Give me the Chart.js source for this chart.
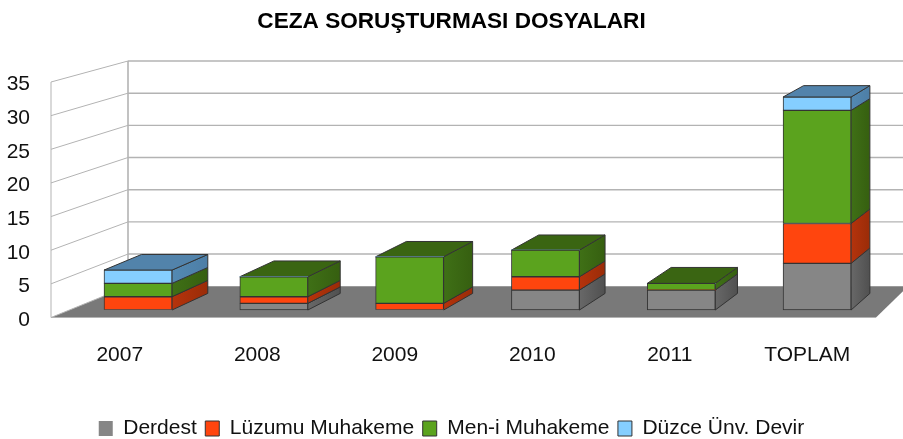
<!DOCTYPE html>
<html>
<head>
<meta charset="utf-8">
<title>Ceza Soruşturması Dosyaları</title>
<script src="https://cdn.jsdelivr.net/npm/chart.js@4/dist/chart.umd.js"></script>
<style>
  html, body { margin: 0; padding: 0; background: #fff; }
  #wrap { width: 903px; height: 439px; }
</style>
</head>
<body>
<div id="wrap"><canvas id="chart" width="903" height="439"></canvas></div>
<script>
const categories = ['2007', '2008', '2009', '2010', '2011', 'TOPLAM'];
const yTicks = [0, 5, 10, 15, 20, 25, 30, 35];
const derdest = [0, 1, 0, 3, 3, 7];
const luzumu = [2, 1, 1, 2, 0, 6];
const meni = [2, 3, 7, 4, 1, 17];
const duzce = [2, 0, 0, 0, 0, 2];

const FONT = '"Liberation Sans", Arial, sans-serif';

// front colour, side gradient (left, right), top colour
const looks = [
    { front: '#868686', side: ['#686868', '#505050'], top: '#5a5a5a' },
    { front: '#ff450e', side: ['#b5330c', '#9a2c08'], top: '#a02e0a' },
    { front: '#5ba31e', side: ['#3f7016', '#365f10'], top: '#3a6512' },
    { front: '#85ceff', side: ['#5389b2', '#4d7ea6'], top: '#5283ab' }
];

function points(values) {
    return values.map((v, i) => ({ x: i, y: v }));
}

function makeDataset(label, values, look) {
    return {
        label: label,
        data: points(values),
        xAxisID: 'xBars',
        yAxisID: 'yBars',
        backgroundColor: look.front,
        borderColor: '#333333',
        borderWidth: ctx => (ctx.raw && ctx.raw.y === 0 ? 0 : 1),
        borderSkipped: false,
        barThickness: 68
    };
}

// where a point of the front wall plane ends up on the back wall
function wallBack(x, y) {
    return {
        x: x + 77 - (x - 51) * 0.0545,
        y: y - (21 + (y - 82) * 0.0436)
    };
}

// same thing for the front face of a bar, it has less depth
function barBack(x, y) {
    return {
        x: x + 37.5 - (x - 104) * 0.025,
        y: y - (11.4 + (y - 97) * 0.0244)
    };
}

function poly(ctx, pts, fill, stroke) {
    ctx.beginPath();
    pts.forEach((p, i) => (i ? ctx.lineTo(p.x, p.y) : ctx.moveTo(p.x, p.y)));
    ctx.closePath();
    ctx.fillStyle = fill;
    ctx.fill();
    if (stroke) {
        ctx.strokeStyle = stroke;
        ctx.lineWidth = 1;
        ctx.stroke();
    }
}

function line(ctx, a, b, color, width) {
    ctx.beginPath();
    ctx.moveTo(a.x, a.y);
    ctx.lineTo(b.x, b.y);
    ctx.strokeStyle = color;
    ctx.lineWidth = width;
    ctx.stroke();
}

// floor, side wall and back wall with the grid
const wallsPlugin = {
    id: 'walls',
    beforeDatasetsDraw(chart) {
        const ctx = chart.ctx;
        const wall = chart.scales.yWall;
        const left = chart.chartArea.left;
        const right = chart.chartArea.right;
        const base = wall.getPixelForValue(0);
        const gridColor = '#b3b3b3';
        ctx.save();

        poly(ctx, [
            { x: left, y: base },
            wallBack(left, base),
            wallBack(right, base),
            { x: right, y: base }
        ], '#797979');

        yTicks.forEach(value => {
            const y = wall.getPixelForValue(value);
            const back = wallBack(left, y);
            line(ctx, { x: left, y: y }, back, gridColor, 1);
            if (value > 0) {
                line(ctx, back, { x: chart.width, y: back.y }, gridColor, 1.4);
            }
        });

        const topY = wall.getPixelForValue(wall.max);
        line(ctx, { x: left, y: topY }, { x: left, y: base }, gridColor, 1);
        line(ctx, wallBack(left, topY), wallBack(left, base), gridColor, 1.6);
        line(ctx, { x: left, y: base }, { x: right, y: base }, gridColor, 1);
        ctx.restore();
    }
};

// the native bars are the front faces, this adds their side and top
const depthPlugin = {
    id: 'depth',
    beforeDatasetsDraw(chart) {
        const ctx = chart.ctx;
        const datasets = chart.data.datasets;
        ctx.save();
        datasets.forEach((ds, d) => {
            chart.getDatasetMeta(d).data.forEach((bar, i) => {
                if (ds.data[i].y === 0) return;
                const props = bar.getProps(['x', 'y', 'base', 'width'], true);
                const l = props.x - props.width / 2;
                const r = props.x + props.width / 2;
                const backTop = barBack(r, props.y);
                const backBase = barBack(r, props.base);

                const grad = ctx.createLinearGradient(r, 0, backTop.x, 0);
                grad.addColorStop(0, looks[d].side[0]);
                grad.addColorStop(1, looks[d].side[1]);
                poly(ctx, [{ x: r, y: props.y }, backTop, backBase, { x: r, y: props.base }], grad, '#333333');

                let above = 0;
                for (let k = d + 1; k < datasets.length; k++) above += datasets[k].data[i].y;
                if (above === 0) {
                    poly(ctx, [{ x: l, y: props.y }, barBack(l, props.y), backTop, { x: r, y: props.y }], looks[d].top, '#333333');
                }
            });
        });
        ctx.restore();
    }
};

new Chart(document.getElementById('chart'), {
    type: 'bar',
    data: {
        labels: categories,
        datasets: [
            makeDataset('Derdest', derdest, looks[0]),
            makeDataset('Lüzumu Muhakeme', luzumu, looks[1]),
            makeDataset('Men-i Muhakeme', meni, looks[2]),
            makeDataset('Düzce Ünv. Devir', duzce, looks[3])
        ]
    },
    options: {
        responsive: false,
        animation: false,
        layout: { padding: { left: 0, right: 0, top: 0, bottom: -10 } },
        plugins: {
            title: {
                display: true,
                text: 'CEZA SORUŞTURMASI DOSYALARI',
                color: '#000',
                font: { family: FONT, size: 22.6, weight: 'bold' },
                padding: { top: 8, bottom: 46.88 }
            },
            legend: {
                position: 'bottom',
                labels: {
                    color: '#111',
                    font: { family: FONT, size: 21 },
                    boxWidth: 14,
                    boxHeight: 15,
                    padding: 8.5
                }
            },
            tooltip: { enabled: false }
        },
        scales: {
            x: {
                type: 'category',
                position: 'bottom',
                grid: { display: false, drawTicks: false },
                border: { display: false },
                ticks: {
                    color: '#111',
                    font: { family: FONT, size: 21 },
                    padding: 25,
                    maxRotation: 0
                },
                afterFit(scale) { scale.height = 92; }
            },
            // only carries the tick labels, they sit slightly under their grid lines
            y: {
                type: 'linear',
                position: 'left',
                min: 0.37,
                max: 35.37,
                grid: { display: false, drawTicks: false },
                border: { display: false },
                afterBuildTicks(scale) { scale.ticks = yTicks.map(v => ({ value: v })); },
                ticks: {
                    color: '#111',
                    font: { family: FONT, size: 21 },
                    padding: 21
                },
                afterFit(scale) { scale.width = 51; }
            },
            yWall: {
                type: 'linear',
                axis: 'y',
                display: false,
                min: 0,
                max: 35
            },
            // keeps the plot clear of the right edge but leaves title and legend centred
            rightGap: {
                type: 'linear',
                axis: 'y',
                position: 'right',
                grid: { display: false, drawTicks: false },
                border: { display: false },
                ticks: { display: false },
                afterFit(scale) { scale.width = 27; }
            },
            // bars stand a bit further back than the axes, so they get their own scales
            xBars: {
                type: 'linear',
                axis: 'x',
                display: false,
                offset: false,
                stacked: true,
                min: -0.6406,
                max: 5.434
            },
            yBars: {
                type: 'linear',
                axis: 'y',
                display: false,
                stacked: true,
                min: -1.124,
                max: 34.26
            }
        }
    },
    plugins: [wallsPlugin, depthPlugin]
});
</script>
</body>
</html>
